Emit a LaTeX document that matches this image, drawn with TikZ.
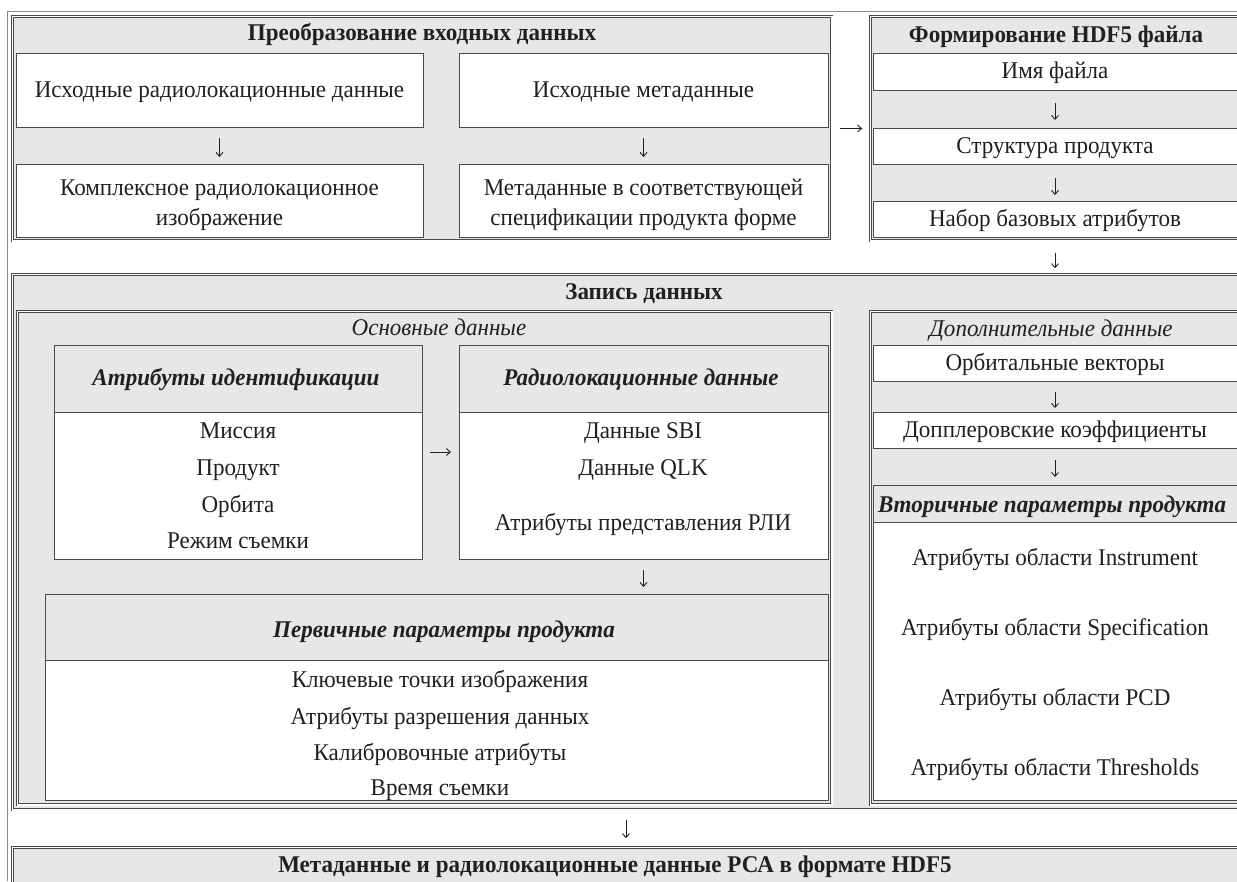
\documentclass[tikz,border=0pt]{standalone}
\usepackage{fontspec}
\setmainfont{Liberation Serif}[FakeStretch=0.96]
\usetikzlibrary{arrows.meta,calc}
\definecolor{fillgray}{HTML}{E6E7E9}
\definecolor{linec}{HTML}{4A4A4A}
\definecolor{tbl}{HTML}{8A8A8A}
\definecolor{txt}{HTML}{231F20}
\begin{document}
\begin{tikzpicture}[x=1pt,y=-1pt,
  every node/.style={outer sep=0pt},
  one/.style={text height=16pt, text depth=2pt},
  txtn/.style={inner sep=0pt, text=txt, align=center, font=\fontsize{24}{30}\selectfont},
  ttl/.style={txtn, one, font=\fontsize{24}{30}\selectfont\bfseries},
  hdr/.style={txtn, one, font=\fontsize{24}{30}\selectfont\bfseries\itshape},
  lbl/.style={txtn, one, font=\fontsize{24}{30}\selectfont\itshape},
  itm/.style={txtn, one},
  frm/.style={draw=linec, line width=0.7pt, double=white, double distance=1.5pt, fill=fillgray, inner sep=0pt, anchor=north west},
  wbox/.style={draw=linec, line width=0.8pt, fill=white, inner sep=0pt, anchor=north west, text=txt, align=center, font=\fontsize{24}{30}\selectfont},
  hfill/.style={draw=linec, line width=0.8pt, fill=fillgray},
  arr/.style={draw=txt, line width=0.9pt, -{Straight Barb[length=4pt,width=7pt]}},
]
\useasboundingbox (0,0) rectangle (1237,881);
\clip (0,0) rectangle (1237,881);
\fill[white] (0,0) rectangle (1237,881);
\draw[tbl, line width=0.8pt] (7.5,881) -- (7.5,11.5) -- (1237,11.5);

% frames
\node[frm, minimum width=819.5pt, minimum height=224.5pt] (F1) at (12.25,16.25) {};
\node[frm, minimum width=369.5pt, minimum height=224.5pt] (F2) at (870.25,16.25) {};
\node[frm, minimum width=1227.5pt, minimum height=535.5pt] (F3) at (12.25,274.25) {};
\node[frm, minimum width=814.5pt, minimum height=493.5pt] (F4) at (17.25,311.25) {};
\node[frm, minimum width=369.5pt, minimum height=493.5pt] (F5) at (870.25,311.25) {};
\node[frm, minimum width=1227.5pt, minimum height=60pt] (F6) at (12.25,847.25) {};

% titles
\node[ttl] (t1) at (422,33) {Преобразование входных данных};
\node[ttl] (t2) at (1056,35) {Формирование HDF5 файла};
\node[ttl] (t3) at (644,292) {Запись данных};
\node[lbl] (t4) at (439,328) {Основные данные};
\node[lbl] (t5) at (1051,329) {Дополнительные данные};
\node[ttl] (t6) at (615,865) {Метаданные и радиолокационные данные РСА в формате HDF5};

% input conversion boxes
\node[wbox, one, minimum width=407pt, minimum height=74pt] (a1) at (16,53) {Исходные радиолокационные данные};
\node[wbox, minimum width=407pt, minimum height=73pt] (a2) at (16,164) {};
\node[txtn] (a2t) at (219.5,205) {Комплексное радиолокационное\\изображение};
\node[wbox, one, minimum width=369pt, minimum height=74pt] (b1) at (459,53) {Исходные метаданные};
\node[wbox, minimum width=369pt, minimum height=73pt] (b2) at (459,164) {};
\node[txtn] (b2t) at (643.5,205) {Метаданные в соответствующей\\спецификации продукта форме};

% HDF5 file boxes
\node[wbox, one, minimum width=364pt, minimum height=37pt] (c1) at (873,53) {Имя файла};
\node[wbox, one, minimum width=364pt, minimum height=36pt] (c2) at (873,128) {Структура продукта};
\node[wbox, one, minimum width=364pt, minimum height=36pt] (c3) at (873,201) {Набор базовых атрибутов};

% main data boxes
\node[wbox, minimum width=368pt, minimum height=214pt] (d1) at (54,345) {};
\draw[hfill] (54,345) rectangle (422,412);
\node[wbox, minimum width=369pt, minimum height=214pt] (d2) at (459,345) {};
\draw[hfill] (459,345) rectangle (828,412);
\node[wbox, minimum width=783pt, minimum height=206pt] (d3) at (45,594) {};
\draw[hfill] (45,594) rectangle (828,660);

\node[hdr] (d1h) at (236,378) {Атрибуты идентификации};
\node[itm] (d1a) at (238,431) {Миссия};
\node[itm] (d1b) at (238,468) {Продукт};
\node[itm] (d1c) at (238,505) {Орбита};
\node[itm] (d1d) at (238,541) {Режим съемки};

\node[hdr] (d2h) at (641,378) {Радиолокационные данные};
\node[itm] (d2a) at (643,431) {Данные SBI};
\node[itm] (d2b) at (643,468) {Данные QLK};
\node[itm] (d2c) at (643,523) {Атрибуты представления РЛИ};

\node[hdr] (d3h) at (444,630) {Первичные параметры продукта};
\node[itm] (d3a) at (440,680) {Ключевые точки изображения};
\node[itm] (d3b) at (440,717) {Атрибуты разрешения данных};
\node[itm] (d3c) at (440,753) {Калибровочные атрибуты};
\node[itm] (d3d) at (440,788) {Время съемки};

% additional data boxes
\node[wbox, one, minimum width=364pt, minimum height=36pt] (e1) at (873,345) {Орбитальные векторы};
\node[wbox, one, minimum width=364pt, minimum height=36pt] (e2) at (873,412) {Допплеровские коэффициенты};
\node[wbox, minimum width=364pt, minimum height=315pt] (e3) at (873,485) {};
\draw[hfill] (873,485) rectangle (1237,522);
\node[hdr] (e3h) at (1052,505) {Вторичные параметры продукта};
\node[itm] (e3a) at (1055,558) {Атрибуты области Instrument};
\node[itm] (e3b) at (1055,628) {Атрибуты области Specification};
\node[itm] (e3c) at (1055,698) {Атрибуты области PCD};
\node[itm] (e3d) at (1055,768) {Атрибуты области Thresholds};

% connectors
\draw[arr, shorten <=11pt, shorten >=7pt] (a1.south) -- (a2.north);
\draw[arr, shorten <=11pt, shorten >=7pt] (b1.south) -- (b2.north);
\draw[arr, shorten <=8pt, shorten >=8pt] (F1.east) -- (F2.west);
\draw[arr, shorten <=13pt, shorten >=8pt] (c1.south) -- (c2.north);
\draw[arr, shorten <=14pt, shorten >=6pt] (c2.south) -- (c3.north);
\draw[arr, shorten <=12pt, shorten >=6pt] (F2.south) -- (F2.south |- F3.north);
\draw[arr, shorten <=8pt, shorten >=8pt] (d1.east) -- (d2.west);
\draw[arr, shorten <=11pt, shorten >=7pt] (d2.south) -- (d2.south |- d3.north);
\draw[arr, shorten <=11pt, shorten >=4pt] (e1.south) -- (e2.north);
\draw[arr, shorten <=12pt, shorten >=8pt] (e2.south) -- (e3.north);
\draw[arr, shorten <=10pt, shorten >=9pt] (F3.south) -- (F3.south |- F6.north);
\end{tikzpicture}
\end{document}
